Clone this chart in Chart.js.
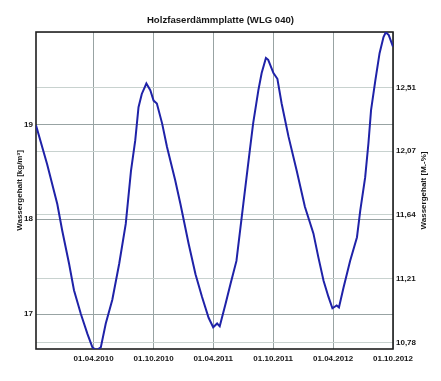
<!DOCTYPE html>
<html>
<head>
<meta charset="utf-8">
<script src="https://cdn.jsdelivr.net/npm/chart.js@4"></script>
<style>
html,body{margin:0;padding:0;background:#fff;}
#wrap{width:441px;height:381px;}
</style>
</head>
<body>
<div id="wrap"><canvas id="c" width="441" height="381"></canvas></div>
<script>
const chartTitle = 'Holzfaserdämmplatte (WLG 040)';
const leftAxisTitle = 'Wassergehalt [kg/m³]';
const rightAxisTitle = 'Wassergehalt [M.-%]';

// days since 01.10.2009
const dayOffsets = [6,40,71,86,107,122,143,163,178,189,196,204,219,239,260,280,296,309,319,329,
  343,355,365,375,391,406,431,447,472,493,513,533,547,559,567,585,600,618,639,659,
  669,685,695,708,715,731,743,756,777,802,827,853,868,884,899,911,924,931,945,965,
  986,996,1011,1021,1029,1042,1055,1067,1074,1083,1096];
// Wassergehalt [kg/m³]
const waterContent = [18.99,18.58,18.16,17.88,17.53,17.25,17.0,16.79,16.65,16.62,
  16.63,16.65,16.9,17.15,17.53,17.95,18.51,18.83,19.18,19.32,
  19.43,19.36,19.25,19.22,19.01,18.76,18.41,18.16,17.74,17.42,
  17.18,16.96,16.86,16.90,16.87,17.11,17.32,17.56,18.16,18.73,
  19.01,19.36,19.54,19.70,19.68,19.54,19.48,19.22,18.87,18.51,
  18.13,17.85,17.60,17.35,17.18,17.06,17.09,17.07,17.28,17.56,
  17.81,18.09,18.44,18.80,19.15,19.46,19.75,19.92,19.97,19.94,19.82];

const xTickDays = [182, 365, 547, 730, 913, 1096];
const xTickLabels = ['01.04.2010','01.10.2010','01.04.2011','01.10.2011','01.04.2012','01.10.2012'];
const leftTickValues = [17, 18, 19];
const rightTickValues = [10.78, 11.2125, 11.645, 12.0775, 12.51];
const rightTickLabels = ['10,78','11,21','11,64','12,07','12,51'];

const xRange = [6, 1096];
const leftRange = [16.631, 19.973];
const rightRange = [10.735, 12.885];

Chart.defaults.font.family = '"Liberation Sans", Arial, sans-serif';
Chart.defaults.font.weight = 'bold';
Chart.defaults.color = '#151515';

const extrasPlugin = {
  id: 'extras',
  beforeDatasetsDraw(chart) {
    const {ctx, chartArea: a} = chart;
    ctx.save();
    ctx.strokeStyle = '#1e1e1e';
    ctx.lineWidth = 1.6;
    ctx.strokeRect(a.left, a.top, a.right - a.left, a.bottom - a.top);
    ctx.restore();
  },
  afterDraw(chart) {
    const {ctx, chartArea: a} = chart;
    const s = chart.scales.y1;
    ctx.save();
    ctx.translate(s.right - 17.2, (a.top + a.bottom) / 2);
    ctx.rotate(-Math.PI / 2);
    ctx.font = 'bold 8px "Liberation Sans", Arial, sans-serif';
    ctx.fillStyle = '#151515';
    ctx.textAlign = 'center';
    ctx.textBaseline = 'middle';
    ctx.fillText(rightAxisTitle, 0, 0);
    ctx.restore();
  }
};

new Chart(document.getElementById('c'), {
  type: 'line',
  data: {
    datasets: [{
      data: dayOffsets.map((d, i) => ({x: d, y: waterContent[i]})),
      yAxisID: 'y',
      borderColor: '#1f22a8',
      borderWidth: 2,
      pointRadius: 0,
      tension: 0,
      fill: false
    }]
  },
  options: {
    responsive: false,
    animation: false,
    devicePixelRatio: 1,
    layout: {padding: 0},
    plugins: {
      legend: {display: false},
      tooltip: {enabled: false},
      title: {
        display: true,
        text: chartTitle,
        font: {size: 9.6, weight: 'bold'},
        color: '#151515',
        padding: {top: 15, bottom: 5.5}
      }
    },
    scales: {
      x: {
        type: 'linear',
        min: xRange[0], max: xRange[1],
        grid: {color: '#98a3a3', lineWidth: 1, drawTicks: false},
        border: {display: false},
        ticks: {
          padding: 5, autoSkip: false, maxRotation: 0, minRotation: 0,
          font: {size: 8, weight: 'bold'},
          callback: (v, i) => xTickLabels[i]
        },
        afterBuildTicks: s => { s.ticks = xTickDays.map(v => ({value: v})); },
        afterFit: s => { s.height = 32; }
      },
      y: {
        position: 'left',
        min: leftRange[0], max: leftRange[1],
        grid: {color: '#98a3a3', lineWidth: 1, drawTicks: false},
        border: {display: false},
        ticks: {padding: 3, font: {size: 8, weight: 'bold'}, callback: v => String(v)},
        afterBuildTicks: s => { s.ticks = leftTickValues.map(v => ({value: v})); },
        title: {display: true, text: leftAxisTitle, font: {size: 8, weight: 'bold'}, padding: {top: 15, bottom: 0}},
        afterFit: s => { s.width = 36; }
      },
      y1: {
        position: 'right',
        min: rightRange[0], max: rightRange[1],
        grid: {color: '#c8d2cf', lineWidth: 1, drawTicks: false},
        border: {display: false},
        ticks: {padding: 3, font: {size: 8, weight: 'bold'}, callback: (v, i) => rightTickLabels[i]},
        afterBuildTicks: s => { s.ticks = rightTickValues.map(v => ({value: v})); },
        afterFit: s => { s.width = 48; }
      }
    }
  },
  plugins: [extrasPlugin]
});
</script>
</body>
</html>
